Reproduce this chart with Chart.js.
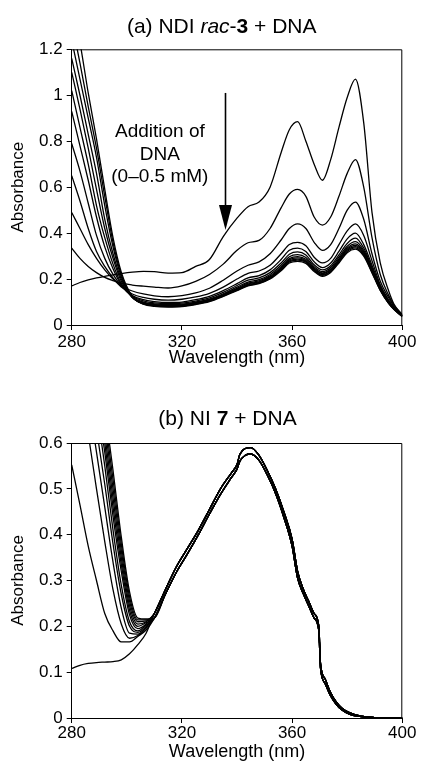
<!DOCTYPE html>
<html>
<head>
<meta charset="utf-8">
<script src="https://cdn.jsdelivr.net/npm/chart.js@4.4.0/dist/chart.umd.min.js"></script>
<style>
    html, body { margin: 0; padding: 0; background: #fff; }
    #wrapA { position: absolute; left: 0; top: 0; width: 421px; height: 380px; }
    #wrapB { position: absolute; left: 0; top: 380px; width: 421px; height: 386px; }
</style>
</head>
<body>
<div id="wrapA"><canvas id="chartA"></canvas></div>
<div id="wrapB"><canvas id="chartB"></canvas></div>
<script>
// ---- panel (a): NDI rac-3 titrated with DNA ----
const wavelengthA = [280, 283, 286, 289, 292, 295, 298, 302, 306, 310, 315, 320, 325, 330, 335, 340, 344, 348, 352, 356,
    359, 362, 365, 368, 371, 374, 377, 380, 383, 386, 389, 392, 395, 397, 400];

const ndi0 = [0.17, 0.185, 0.196, 0.205, 0.212, 0.218, 0.224, 0.23, 0.233, 0.232, 0.226, 0.228, 0.255, 0.285, 0.385, 0.465,
    0.515, 0.535, 0.6, 0.75, 0.85, 0.885, 0.8, 0.7, 0.63, 0.72, 0.86, 0.99, 1.07, 0.88, 0.49, 0.27, 0.15, 0.09, 0.045];
const ndi1 = [0.335, 0.29, 0.255, 0.228, 0.207, 0.193, 0.182, 0.174, 0.169, 0.165, 0.161, 0.17, 0.19, 0.22, 0.265, 0.325,
    0.358, 0.368, 0.42, 0.51, 0.57, 0.59, 0.56, 0.47, 0.435, 0.47, 0.56, 0.66, 0.72, 0.6, 0.38, 0.22, 0.13, 0.085, 0.045];
const ndi2 = [0.49, 0.42, 0.35, 0.29, 0.24, 0.2, 0.17, 0.148, 0.135, 0.127, 0.123, 0.128, 0.14, 0.16, 0.195, 0.235,
    0.26, 0.275, 0.31, 0.37, 0.42, 0.44, 0.42, 0.36, 0.325, 0.35, 0.42, 0.5, 0.535, 0.46, 0.31, 0.19, 0.12, 0.08, 0.042];
const ndi3 = [0.65, 0.54, 0.42, 0.32, 0.255, 0.205, 0.165, 0.135, 0.12, 0.112, 0.108, 0.112, 0.122, 0.138, 0.165, 0.2,
    0.225, 0.235, 0.26, 0.31, 0.35, 0.36, 0.345, 0.295, 0.27, 0.29, 0.35, 0.41, 0.44, 0.39, 0.28, 0.175, 0.11, 0.075, 0.04];
const ndi4 = [0.79, 0.67, 0.53, 0.39, 0.29, 0.22, 0.17, 0.128, 0.11, 0.102, 0.098, 0.1, 0.11, 0.125, 0.15, 0.18,
    0.205, 0.215, 0.24, 0.285, 0.325, 0.335, 0.32, 0.275, 0.25, 0.27, 0.32, 0.375, 0.4, 0.35, 0.26, 0.17, 0.105, 0.075, 0.04];
const ndi5 = [0.93, 0.78, 0.63, 0.47, 0.34, 0.245, 0.175, 0.125, 0.105, 0.096, 0.093, 0.095, 0.104, 0.118, 0.142, 0.172,
    0.195, 0.205, 0.228, 0.27, 0.308, 0.318, 0.305, 0.262, 0.24, 0.258, 0.305, 0.355, 0.378, 0.335, 0.25, 0.165, 0.1, 0.072, 0.04];
const ndi6 = [1.02, 0.86, 0.7, 0.52, 0.38, 0.265, 0.18, 0.122, 0.1, 0.092, 0.089, 0.091, 0.1, 0.113, 0.136, 0.165,
    0.187, 0.197, 0.22, 0.26, 0.297, 0.306, 0.294, 0.254, 0.232, 0.25, 0.295, 0.343, 0.363, 0.325, 0.245, 0.16, 0.1, 0.071, 0.039];
const ndi7 = [1.1, 0.94, 0.77, 0.59, 0.42, 0.29, 0.19, 0.12, 0.097, 0.089, 0.086, 0.088, 0.097, 0.11, 0.132, 0.16,
    0.182, 0.192, 0.214, 0.253, 0.289, 0.298, 0.286, 0.248, 0.227, 0.244, 0.288, 0.335, 0.353, 0.318, 0.24, 0.158, 0.098, 0.07, 0.039];
const ndi8 = [1.16, 1.0, 0.83, 0.66, 0.46, 0.31, 0.2, 0.12, 0.095, 0.087, 0.084, 0.086, 0.095, 0.108, 0.13, 0.157,
    0.178, 0.188, 0.21, 0.248, 0.284, 0.292, 0.281, 0.244, 0.223, 0.24, 0.283, 0.33, 0.347, 0.313, 0.236, 0.156, 0.097, 0.07, 0.038];
const ndi9 = [1.24, 1.07, 0.9, 0.73, 0.52, 0.34, 0.21, 0.12, 0.093, 0.085, 0.082, 0.084, 0.093, 0.106, 0.128, 0.155,
    0.175, 0.185, 0.206, 0.244, 0.279, 0.287, 0.277, 0.24, 0.219, 0.236, 0.279, 0.325, 0.341, 0.308, 0.233, 0.154, 0.096, 0.069, 0.038];
const ndi10 = [1.32, 1.14, 0.95, 0.77, 0.56, 0.36, 0.22, 0.122, 0.092, 0.083, 0.08, 0.082, 0.091, 0.104, 0.126, 0.152,
    0.172, 0.182, 0.203, 0.24, 0.275, 0.282, 0.273, 0.237, 0.216, 0.233, 0.275, 0.32, 0.336, 0.304, 0.23, 0.152, 0.095, 0.068, 0.037];
const ndi11 = [1.42, 1.23, 1.01, 0.81, 0.59, 0.38, 0.23, 0.125, 0.091, 0.081, 0.078, 0.08, 0.089, 0.102, 0.124, 0.15,
    0.17, 0.18, 0.2, 0.236, 0.27, 0.277, 0.268, 0.233, 0.212, 0.229, 0.27, 0.315, 0.33, 0.3, 0.227, 0.15, 0.094, 0.067, 0.036];

const ticksAY = [0, 0.2, 0.4, 0.6, 0.8, 1, 1.2];
const ticksX = [280, 320, 360, 400];

// ---- panel (b): NI 7 titrated with DNA ----
// left part differs per spectrum, right part is one narrow band (upper / lower edge)
const wavelengthBLeft = [280, 283, 286, 289, 292, 295, 298, 301, 304, 307];
const niFree = [0.108, 0.115, 0.119, 0.121, 0.122, 0.123, 0.127, 0.14, 0.16, 0.185];
const ni1 = [0.552, 0.465, 0.375, 0.3, 0.228, 0.19, 0.166, 0.166, 0.178, 0.192];
const ni2 = [0.87, 0.74, 0.62, 0.5, 0.385, 0.28, 0.205, 0.174, 0.18, 0.196];
const ni3 = [0.95, 0.83, 0.7, 0.58, 0.46, 0.34, 0.24, 0.185, 0.183, 0.198];
const ni4 = [1.0, 0.88, 0.76, 0.63, 0.51, 0.38, 0.27, 0.2, 0.187, 0.2];
const ni5 = [1.05, 0.92, 0.8, 0.68, 0.55, 0.41, 0.29, 0.21, 0.19, 0.203];
const ni6 = [1.08, 0.95, 0.83, 0.7, 0.58, 0.44, 0.32, 0.225, 0.195, 0.205];
const ni7 = [1.11, 0.98, 0.86, 0.73, 0.6, 0.46, 0.335, 0.235, 0.2, 0.208];
const ni8 = [1.14, 1.01, 0.89, 0.76, 0.62, 0.48, 0.35, 0.245, 0.205, 0.21];
const ni9 = [1.17, 1.04, 0.92, 0.79, 0.64, 0.5, 0.365, 0.255, 0.21, 0.212];
const ni10 = [1.2, 1.07, 0.95, 0.82, 0.66, 0.52, 0.38, 0.265, 0.214, 0.214];
const ni11 = [1.23, 1.1, 0.98, 0.85, 0.68, 0.54, 0.395, 0.275, 0.218, 0.216];

const wavelengthBRight = [310, 314, 318, 322, 326, 330, 334, 338, 340, 341, 343, 345, 348, 351, 354, 357, 360, 362,
    364, 366, 368, 369.7, 370.3, 372, 374, 376, 378, 381, 385, 390, 395, 400];
const niBandHi = [0.228, 0.28, 0.33, 0.37, 0.41, 0.455, 0.5, 0.535, 0.553, 0.575, 0.588, 0.59, 0.573, 0.54, 0.5, 0.45,
    0.39, 0.32, 0.282, 0.255, 0.228, 0.2, 0.12, 0.085, 0.055, 0.035, 0.022, 0.011, 0.004, 0.001, 0, 0];
const niBandLo = [0.218, 0.27, 0.318, 0.358, 0.4, 0.445, 0.488, 0.525, 0.543, 0.56, 0.573, 0.576, 0.562, 0.53, 0.49, 0.438,
    0.375, 0.305, 0.272, 0.245, 0.218, 0.19, 0.11, 0.075, 0.048, 0.03, 0.018, 0.008, 0.003, 0.001, 0, 0];

const ticksBY = [0, 0.1, 0.2, 0.3, 0.4, 0.5, 0.6];

// annotation in panel (a)
const noteLines = ['Addition of', 'DNA', '(0\u20130.5 mM)'];

const FONT = '"Liberation Sans", Arial, Helvetica, sans-serif';
Chart.defaults.font.family = FONT;
Chart.defaults.color = '#000';

function toPoints(xs, ys) {
    return xs.map(function (x, i) { return { x: x, y: ys[i] }; });
}

function lineSet(points) {
    return {
        data: points,
        borderColor: '#000',
        borderWidth: 1.3,
        pointRadius: 0,
        fill: false,
        cubicInterpolationMode: 'monotone'
    };
}

function fixedTicks(values) {
    return function (scale) {
        scale.ticks = values.map(function (v) { return { value: v }; });
    };
}

// plain number labels: 1 rather than 1.0
function plainLabel(value) {
    return String(Number(value.toFixed(2)));
}

function makeScales(yMax, yTicks, xAxisHeight, xTickPad, xTitlePad) {
    return {
        x: {
            type: 'linear', min: 280, max: 400,
            afterBuildTicks: fixedTicks(ticksX),
            afterFit: function (s) { s.height = xAxisHeight; },
            grid: { display: true, drawOnChartArea: false, drawTicks: true, tickLength: 5, color: '#000' },
            border: { display: true, color: '#000', width: 1 },
            ticks: { font: { size: 17 }, padding: xTickPad, maxRotation: 0, callback: plainLabel },
            title: { display: true, text: 'Wavelength (nm)', font: { size: 18 }, padding: { top: 0, bottom: xTitlePad } }
        },
        y: {
            type: 'linear', min: 0, max: yMax,
            afterBuildTicks: fixedTicks(yTicks),
            afterFit: function (s) { s.width = 71.7; },
            grid: { display: true, drawOnChartArea: false, drawTicks: true, tickLength: 5, color: '#000' },
            border: { display: true, color: '#000', width: 1 },
            ticks: { font: { size: 17 }, padding: 4, callback: plainLabel },
            title: { display: true, text: 'Absorbance', font: { size: 17 }, padding: { top: 8, bottom: 0 } }
        }
    };
}

// top and right edges of the box
var framePlugin = {
    id: 'frame',
    afterDatasetsDraw: function (chart) {
        var a = chart.chartArea, ctx = chart.ctx;
        ctx.save();
        ctx.strokeStyle = '#000';
        ctx.lineWidth = 1;
        ctx.beginPath();
        ctx.moveTo(a.left, a.top + 0.5);
        ctx.lineTo(a.right - 0.5, a.top + 0.5);
        ctx.lineTo(a.right - 0.5, a.bottom);
        ctx.stroke();
        ctx.restore();
    }
};

// title made of pieces with different font styles
function titlePlugin(parts, cx, cy) {
    return {
        id: 'mixedTitle',
        afterDraw: function (chart) {
            var ctx = chart.ctx;
            ctx.save();
            ctx.fillStyle = '#000';
            ctx.textBaseline = 'middle';
            ctx.textAlign = 'left';
            var widths = parts.map(function (p) { ctx.font = p.font; return ctx.measureText(p.text).width; });
            var total = widths.reduce(function (s, w) { return s + w; }, 0);
            var x = cx - total / 2;
            parts.forEach(function (p, i) {
                ctx.font = p.font;
                ctx.fillText(p.text, x, cy);
                x += widths[i];
            });
            ctx.restore();
        }
    };
}

var arrowNote = {
    id: 'arrowNote',
    afterDatasetsDraw: function (chart) {
        var xs = chart.scales.x, ys = chart.scales.y, ctx = chart.ctx;
        ctx.save();
        ctx.fillStyle = '#000';
        ctx.strokeStyle = '#000';
        ctx.font = '19px ' + FONT;
        ctx.textAlign = 'center';
        ctx.textBaseline = 'middle';
        var noteX = xs.getPixelForValue(312);
        var noteY = [0.841, 0.74, 0.645];
        noteLines.forEach(function (t, i) { ctx.fillText(t, noteX, ys.getPixelForValue(noteY[i])); });
        var ax = Math.round(xs.getPixelForValue(335.6)) + 0.5;
        var y0 = ys.getPixelForValue(1.01), y1 = ys.getPixelForValue(0.413);
        ctx.lineWidth = 1.6;
        ctx.beginPath();
        ctx.moveTo(ax, y0);
        ctx.lineTo(ax, y1 - 20);
        ctx.stroke();
        ctx.beginPath();
        ctx.moveTo(ax - 6.5, y1 - 25);
        ctx.lineTo(ax + 6.5, y1 - 25);
        ctx.lineTo(ax, y1);
        ctx.closePath();
        ctx.fill();
        ctx.restore();
    }
};

var curvesA = [ndi0, ndi1, ndi2, ndi3, ndi4, ndi5, ndi6, ndi7, ndi8, ndi9, ndi10, ndi11];
new Chart(document.getElementById('chartA'), {
    type: 'line',
    data: {
        datasets: curvesA.map(function (c) { return lineSet(toPoints(wavelengthA, c)); })
    },
    options: {
        responsive: true,
        maintainAspectRatio: false,
        animation: false,
        events: [],
        layout: { padding: { top: 49.3, right: 18.7, bottom: 0, left: 0 } },
        plugins: { legend: { display: false }, tooltip: { enabled: false } },
        scales: makeScales(1.2, ticksAY, 55, 2, 10.7)
    },
    plugins: [framePlugin, arrowNote, titlePlugin([
        { text: '(a) NDI ', font: '21px ' + FONT },
        { text: 'rac', font: 'italic 21px ' + FONT },
        { text: '-', font: '21px ' + FONT },
        { text: '3', font: 'bold 21px ' + FONT },
        { text: ' + DNA', font: '21px ' + FONT }
    ], 221.7, 27)]
});

var leftB = [niFree, ni1, ni2, ni3, ni4, ni5, ni6, ni7, ni8, ni9, ni10, ni11];
new Chart(document.getElementById('chartB'), {
    type: 'line',
    data: {
        datasets: leftB.map(function (c, i) {
            var band = i % 2 === 0 ? niBandHi : niBandLo;
            return lineSet(toPoints(wavelengthBLeft, c).concat(toPoints(wavelengthBRight, band)));
        })
    },
    options: {
        responsive: true,
        maintainAspectRatio: false,
        animation: false,
        events: [],
        layout: { padding: { top: 63, right: 18.7, bottom: 0, left: 0 } },
        plugins: { legend: { display: false }, tooltip: { enabled: false } },
        scales: makeScales(0.6, ticksBY, 48, 0, 3.2)
    },
    plugins: [framePlugin, titlePlugin([
        { text: '(b) NI ', font: '21px ' + FONT },
        { text: '7', font: 'bold 21px ' + FONT },
        { text: ' + DNA', font: '21px ' + FONT }
    ], 227.5, 39)]
});
</script>
</body>
</html>
